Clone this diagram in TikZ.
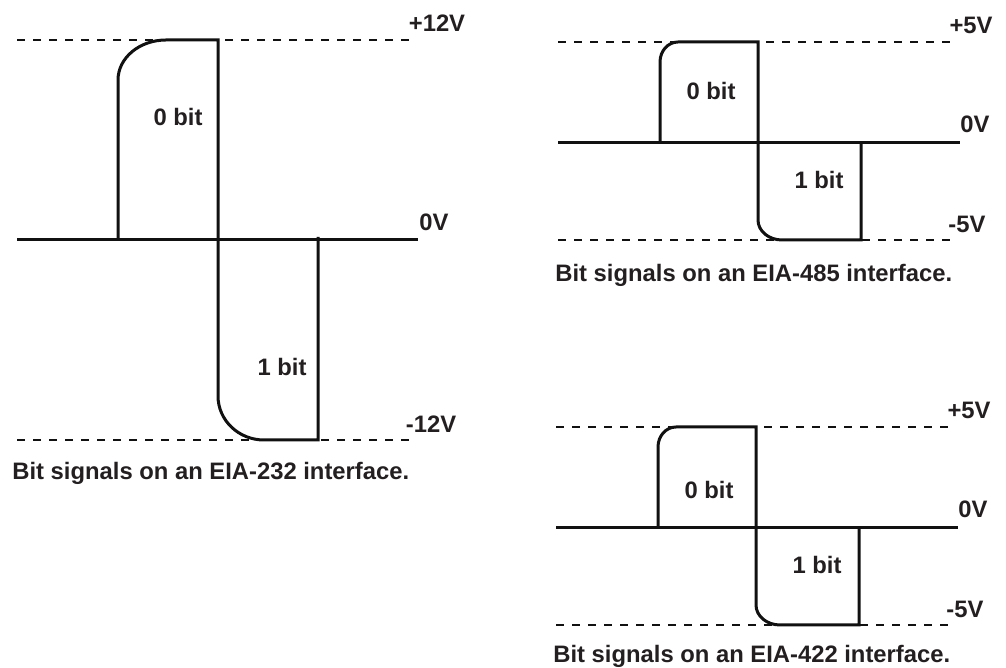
\documentclass[tikz,border=0pt]{standalone}
\usepackage{fontspec}
\setmainfont{Liberation Sans}
\definecolor{sigInk}{HTML}{111111}
\definecolor{txtInk}{HTML}{231f20}
\tikzset{
  sigline/.style={draw=sigInk, line width=1.5pt, line join=miter},
  zeroline/.style={draw=sigInk, line width=1.5pt},
  refline/.style={draw=sigInk, line width=1.4pt, dash pattern=on 4pt off 4pt},
  lvl/.style={font=\bfseries\fontsize{11.9}{14}\selectfont, text=txtInk, inner sep=0pt},
  bitlbl/.style={lvl},
  capt/.style={lvl, anchor=base west},
}

\begin{document}
\begin{tikzpicture}[x=0.5pt,y=0.5pt]
  \useasboundingbox (0,0) rectangle (1006,668);
  % EIA-232, +/-12V
  \draw[refline] (17,628) -- (410,628);
  \draw[refline] (17,228) -- (410,228);
  \draw[zeroline] (17,428) -- (418,428);
  \draw[sigline] (118,428) -- (118,588)
        arc[start angle=180, end angle=90, x radius=24pt, y radius=20pt]
        -- (218,628) -- (218,272)
        arc[start angle=180, end angle=270, x radius=23pt, y radius=22pt]
        -- (318,228) -- (318,431);
  \node[lvl] (hi232) at (437,645) {+12V};
  \node[lvl] (mid232) at (434,446) {0V};
  \node[lvl] (lo232) at (431,244) {-12V};
  \node[bitlbl] (zero232) at (178,551) {0 bit};
  \node[bitlbl] (one232) at (282,301) {1 bit};
  \node[capt] (cap232) at (12,188) {Bit signals on an EIA-232 interface.};
  % EIA-485 and EIA-422, +/-5V
  \foreach \n/\dx/\dy/\zy/\cy in {485/0/0/577/386, 422/-2/-385/563/390}{
    \begin{scope}[shift={(\dx,\dy)}]
      \draw[refline] (558,626) -- (952,626);
      \draw[refline] (558,428) -- (952,428);
      \draw[zeroline] (558,525) -- (960,525);
      \draw[sigline] (660,525) -- (660,606)
            arc[start angle=180, end angle=90, x radius=9pt, y radius=10pt]
            -- (758,626) -- (758,448)
            arc[start angle=180, end angle=270, x radius=12pt, y radius=10pt]
            -- (861,428) -- (861,525);
      \node[lvl] (hi\n) at (971,643) {+5V};
      \node[lvl] (mid\n) at (975,544) {0V};
      \node[lvl] (lo\n) at (967,444) {-5V};
      \node[bitlbl] (zero\n) at (711,\zy) {0 bit};
      \node[bitlbl] (one\n) at (819,488) {1 bit};
      \node[capt] (cap\n) at (555,\cy) {Bit signals on an EIA-\n\ interface.};
    \end{scope}
  }
\end{tikzpicture}
\end{document}
